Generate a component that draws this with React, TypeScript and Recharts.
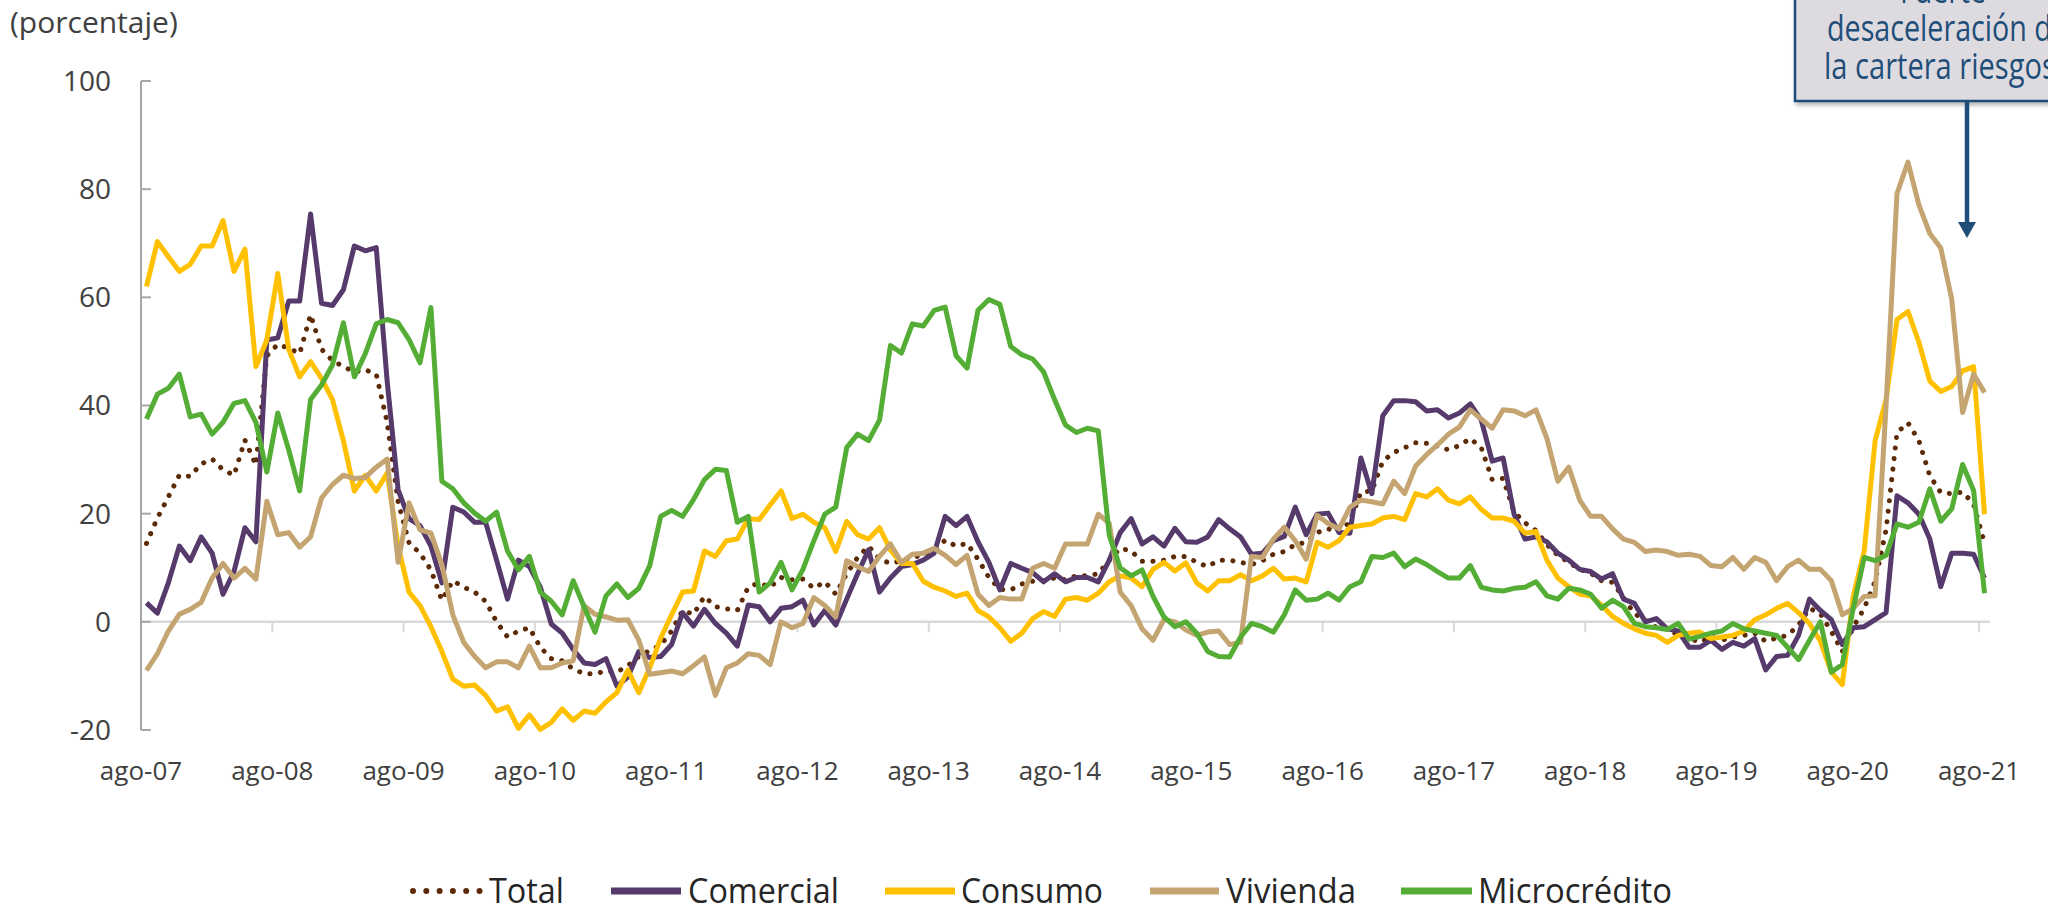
import { LineChart, Line, XAxis, YAxis, ReferenceLine } from "recharts";

// ago-07 ... ago-21, monthly growth (porcentaje)
const TICK_LABELS = [
  "ago-07", "ago-08", "ago-09", "ago-10", "ago-11", "ago-12", "ago-13", "ago-14",
  "ago-15", "ago-16", "ago-17", "ago-18", "ago-19", "ago-20", "ago-21",
];
const Y_TICKS = [-20, 0, 20, 40, 60, 80, 100];

const TOTAL = [
  14.5, 19.2, 23.1, 27.1, 26.9, 29.2, 30.1, 28.1, 27.1, 33.6, 29, 49.2,
  51.3, 50.6, 49.6, 56.8, 50.4, 48.3, 47.2, 46.2, 46.6, 45.8, 36.9, 22.2,
  14.6, 12.7, 9.6, 4.0, 7.6, 6.4, 5.5, 3.8, 0, -2.8, -1.7, -1.1,
  -4.7, -6.8, -7.2, -8.7, -9.6, -9.6, -9.1, -9.3, -8.1, -6.4, -5.3, -4.3,
  -1.7, 2.1, 1.4, 4.7, 2.8, 2.4, 2.1, 6.4, 7.2, 6.4, 8.2, 7.8,
  7.9, 6.2, 7.4, 5.1, 8.9, 11.9, 14, 11.6, 10.8, 11.3, 12, 12.2,
  13.1, 15.1, 14, 14.5, 11.6, 8.2, 6.0, 5.9, 7.0, 7.5, 7.6, 8.1,
  7.8, 8.5, 8.5, 8.9, 11.4, 13.6, 13.1, 11.2, 11.2, 11.4, 12.1, 12.1,
  11.0, 10.2, 11.4, 11.4, 11.0, 10.6, 11.3, 12.5, 13, 14.3, 14.7, 16.5,
  17.2, 16.6, 18.5, 24, 24.2, 29.7, 31.3, 32.2, 33.1, 33, 32.5, 31.8,
  32.6, 33.9, 32.2, 26.3, 26.5, 20.3, 18.3, 16.9, 14.3, 12.3, 11.0, 9.7,
  9.0, 7.6, 7.3, 4.5, 1.5, 0.3, -1.0, -1.3, -2.5, -3.0, -3.8, -2.8,
  -3.4, -2.8, -2.5, -2.1, -3.6, -3.0, -2.5, -0.6, 2.5, 1.5, -1.8, -5.5,
  -1.0, 2.5, 7.5, 17, 35, 36.8, 33.5, 27, 23.9, 23.7, 24, 21.8,
  14.5,
];

const COMERCIAL = [
  3.5, 1.6, 7.2, 14, 11.3, 15.7, 12.7, 5.1, 9.3, 17.4, 14.8, 52.1,
  52.5, 59.3, 59.3, 75.4, 58.9, 58.5, 61.4, 69.5, 68.6, 69.2, 44.5, 24.4,
  19.1, 17.8, 14, 7.2, 21.2, 20.3, 18.4, 18.4, 11.4, 4.2, 11.4, 10.2,
  6.4, -0.4, -2.1, -5.1, -7.6, -7.9, -6.8, -11.9, -10.2, -5.5, -6.6, -6.4,
  -4.2, 1.7, -0.8, 2.3, -0.3, -2.1, -4.5, 3.1, 2.8, 0, 2.5, 2.8,
  4.0, -0.6, 2.1, -0.6, 4.2, 8.9, 13.3, 5.5, 8.1, 10.2, 10.6, 11.4,
  12.7, 19.5, 17.8, 19.5, 14.8, 11, 5.9, 10.8, 9.9, 9.1, 7.4, 8.9,
  7.4, 8.2, 8.2, 7.4, 11.4, 16.5, 19.1, 14.4, 15.7, 14, 17.3, 14.8,
  14.7, 15.7, 18.9, 17.2, 15.7, 12.5, 12.7, 15, 15.8, 21.2, 16.1, 19.9,
  20.1, 16.5, 16.4, 30.3, 23.7, 38.1, 40.9, 40.9, 40.7, 39, 39.2, 37.7,
  38.6, 40.3, 37.3, 29.7, 30.3, 19.9, 15.3, 15.7, 14.8, 12.7, 11.4, 9.7,
  9.3, 7.9, 8.9, 4.2, 3.4, 0, 0.6, -1.3, -1.7, -4.7, -4.7, -3.4,
  -5.1, -3.8, -4.5, -3.1, -8.9, -6.4, -6.2, -2.5, 4.2, 2.1, 0.4, -4.2,
  -1.1, -0.9, 0.4, 1.7, 23.3, 22, 19.9, 15.3, 6.5, 12.7, 12.7, 12.5,
  8.1,
];

const CONSUMO = [
  62, 70.3, 67.5, 64.8, 66.1, 69.5, 69.5, 74.2, 64.8, 68.9, 47.2, 52.1,
  64.4, 50.4, 45.3, 48.1, 45, 41.1, 33.5, 24.2, 27.1, 24.2, 27.5, 14,
  5.5, 3, -0.9, -5.5, -10.6, -11.9, -11.7, -13.6, -16.5, -15.7, -19.7, -17.2,
  -19.9, -18.6, -16.1, -18.2, -16.5, -16.9, -14.8, -13.1, -8.9, -13.1, -8.5, -3,
  1.3, 5.5, 5.7, 13.1, 12.1, 15, 15.3, 19.1, 18.9, 21.6, 24.2, 19.1,
  19.9, 18.4, 17.4, 13, 18.6, 16.1, 15.3, 17.4, 13.3, 10.8, 10.8, 7.5,
  6.4, 5.7, 4.7, 5.3, 2.1, 0.9, -1.1, -3.6, -2.1, 0.6, 1.9, 1.0,
  4.2, 4.5, 4.0, 5.3, 7.4, 8.5, 8.1, 6.5, 9.7, 11.0, 9.4, 10.9,
  7.2, 5.7, 7.6, 7.6, 8.7, 7.6, 8.5, 9.9, 7.9, 8.1, 7.4, 14.7,
  13.8, 15.0, 17.5, 17.8, 18.1, 19.2, 19.5, 18.9, 23.7, 23.1, 24.6, 22.5,
  21.8, 23.1, 20.8, 19.2, 19.2, 18.6, 16.4, 16.7, 11.4, 8.1, 6.5, 5.1,
  4.8, 3.1, 1.0, -0.3, -1.3, -2.1, -2.5, -3.8, -2.5, -2.1, -1.9, -3.1,
  -2.8, -2.5, -1.7, 0.4, 1.3, 2.5, 3.4, 1.7, -0.3, -3.6, -9.3, -11.6,
  4.7, 13.1, 33.5, 41.1, 55.9, 57.4, 51.7, 44.5, 42.6, 43.5, 46.4, 47.2,
  19.9,
];

const VIVIENDA = [
  -9, -5.9, -1.7, 1.4, 2.3, 3.6, 8.1, 10.8, 8.1, 9.9, 7.9, 22.3,
  16.1, 16.5, 13.8, 15.7, 22.9, 25.4, 27.1, 26.5, 26.7, 28.6, 30.1, 11,
  22, 17, 16.4, 10.6, 1.3, -3.8, -6.4, -8.5, -7.4, -7.4, -8.5, -4.5,
  -8.5, -8.5, -7.6, -7.2, 3.0, 1.4, 0.9, 0.3, 0.4, -3.4, -9.7, -9.4,
  -9.1, -9.6, -8.1, -6.5, -13.6, -8.5, -7.6, -5.9, -6.2, -7.9, 0, -1.1,
  -0.3, 4.5, 3, 0.9, 11.3, 10.2, 9.3, 12.1, 14.4, 11, 12.5, 12.7,
  13.6, 12.3, 10.6, 12.3, 5.1, 3, 4.5, 4.2, 4.2, 9.9, 10.8, 9.9,
  14.4, 14.4, 14.4, 19.9, 18.2, 5.5, 3.0, -1.3, -3.4, 0.4, 0, -1.5,
  -2.5, -1.9, -1.7, -4.2, -3.8, 12.1, 11.9, 15.3, 17.5, 15, 11.6, 19.7,
  18.2, 17.2, 21.2, 22.5, 22.2, 21.8, 26, 23.7, 28.8, 30.9, 32.7, 34.7,
  36, 39.2, 37.5, 35.8, 39.2, 39, 38.1, 39.2, 33.9, 26, 28.6, 22.5,
  19.5, 19.5, 17.2, 15.3, 14.7, 13, 13.3, 13, 12.3, 12.5, 12.1, 10.4,
  10.2, 11.9, 9.7, 11.9, 11, 7.6, 10.2, 11.4, 9.7, 9.7, 7.6, 1.3,
  2.5, 4.7, 4.8, 40, 79.2, 85, 77.1, 71.8, 69.1, 59.7, 38.7, 45.8,
  42.4,
];

const MICROCREDITO = [
  37.5, 42.1, 43.2, 45.8, 37.9, 38.4, 34.7, 36.9, 40.4, 40.9, 36.9, 27.7,
  38.6, 31.8, 24.2, 41.1, 43.8, 47.5, 55.3, 45.3, 49.6, 55.1, 55.9, 55.3,
  52.2, 47.9, 58.1, 26, 24.6, 22, 20.1, 18.6, 20.3, 13.1, 9.6, 12.1,
  5.5, 3.8, 1.3, 7.6, 2.8, -1.9, 4.8, 7.0, 4.5, 6.2, 10.4, 19.5,
  20.6, 19.5, 22.6, 26.3, 28.2, 28, 18.4, 19.5, 5.5, 7.2, 11, 5.9,
  9.7, 15, 19.9, 21.2, 32.2, 34.7, 33.5, 37.3, 51.1, 49.7, 55.1, 54.7,
  57.6, 58.2, 49.2, 46.9, 57.6, 59.6, 58.7, 50.9, 49.4, 48.6, 46.2, 41.1,
  36.4, 35, 35.8, 35.3, 16, 10, 8.5, 9.6, 4.7, 0.9, -0.9, 0,
  -2.1, -5.5, -6.4, -6.5, -2.8, -0.3, -0.9, -1.9, 1.3, 5.9, 4.0, 4.2,
  5.3, 4.0, 6.5, 7.4, 12.1, 11.9, 12.7, 10.2, 11.6, 10.6, 9.3, 8.1,
  8.1, 10.4, 6.4, 5.9, 5.7, 6.2, 6.4, 7.4, 4.8, 4.2, 6.2, 5.9,
  5.1, 2.5, 4.0, 2.8, -0.3, -0.9, -1.1, -1.4, -0.3, -3.2, -2.7, -2.1,
  -1.7, -0.3, -1.3, -1.7, -2.1, -2.5, -4.7, -7, -3.4, 0, -9.3, -7.9,
  2.5, 11.9, 11.3, 12.3, 18.1, 17.5, 18.4, 24.6, 18.6, 20.9, 29.1, 24.3,
  5.3,
];

const data = TOTAL.map((v, i) => ({
  i,
  total: v,
  comercial: COMERCIAL[i],
  consumo: CONSUMO[i],
  vivienda: VIVIENDA[i],
  micro: MICROCREDITO[i],
}));

// year ticks sit on the boundary before each August
const X_TICKS = TICK_LABELS.map((_, k) => k * 12 - 0.5);

const COLORS = {
  total: "#5c2a06",
  comercial: "#553a6b",
  consumo: "#ffc000",
  vivienda: "#c4a572",
  micro: "#54ad34",
};

const FONT = "'Open Sans', sans-serif";
const NAVY = "#1f4e79";

export default function App() {
  return (
    <div
      style={{
        position: "fixed",
        left: 0,
        top: 0,
        width: 2048,
        height: 907,
        overflow: "hidden",
        background: "#fff",
        fontFamily: FONT,
      }}
    >
      <LineChart
        width={2048}
        height={907}
        data={data}
        margin={{ top: 81, right: 58, left: 0, bottom: 117 }}
      >
        <XAxis
          dataKey="i"
          type="number"
          domain={[-0.5, 168.5]}
          ticks={X_TICKS}
          interval={0}
          tickFormatter={(v) => TICK_LABELS[Math.round((v + 0.5) / 12)]}
          axisLine={false}
          tickLine={false}
          tickSize={0}
          tickMargin={32}
          height={60}
          tick={{ fontSize: 26, fill: "#404040", fontFamily: FONT }}
        />
        <YAxis
          type="number"
          domain={[-20, 100]}
          ticks={Y_TICKS}
          interval={0}
          axisLine={{ stroke: "#a6a6a6", strokeWidth: 2 }}
          tickLine={false}
          tickSize={0}
          tickMargin={30}
          width={141}
          tick={{ fontSize: 28, fill: "#404040", fontFamily: FONT }}
        />

        <ReferenceLine y={0} stroke="#d9d9d9" strokeWidth={2.5} />
        {X_TICKS.slice(1).map((t) => (
          <ReferenceLine
            key={"xt" + t}
            segment={[{ x: t, y: 0 }, { x: t, y: -1.9 }]}
            stroke="#d9d9d9"
            strokeWidth={2}
          />
        ))}
        {Y_TICKS.map((v) => (
          <ReferenceLine
            key={"yt" + v}
            segment={[{ x: -0.5, y: v }, { x: 0.4, y: v }]}
            stroke="#a6a6a6"
            strokeWidth={2}
          />
        ))}

        <Line
          type="linear"
          dataKey="total"
          stroke={COLORS.total}
          strokeWidth={5}
          strokeDasharray="0.1 10.5"
          strokeLinecap="round"
          dot={false}
          activeDot={false}
          isAnimationActive={false}
        />
        <Line
          type="linear"
          dataKey="comercial"
          stroke={COLORS.comercial}
          strokeWidth={5}
          strokeLinejoin="round"
          dot={false}
          activeDot={false}
          isAnimationActive={false}
        />
        <Line
          type="linear"
          dataKey="consumo"
          stroke={COLORS.consumo}
          strokeWidth={5}
          strokeLinejoin="round"
          dot={false}
          activeDot={false}
          isAnimationActive={false}
        />
        <Line
          type="linear"
          dataKey="vivienda"
          stroke={COLORS.vivienda}
          strokeWidth={5}
          strokeLinejoin="round"
          dot={false}
          activeDot={false}
          isAnimationActive={false}
        />
        <Line
          type="linear"
          dataKey="micro"
          stroke={COLORS.micro}
          strokeWidth={5}
          strokeLinejoin="round"
          dot={false}
          activeDot={false}
          isAnimationActive={false}
        />
      </LineChart>

      {/* title, callout and legend on top of the chart */}
      <svg
        width={2048}
        height={907}
        style={{ position: "absolute", left: 0, top: 0, pointerEvents: "none" }}
      >
        <defs>
          <filter id="shadow" x="-10%" y="-10%" width="130%" height="130%">
            <feDropShadow dx="2" dy="3" stdDeviation="2" floodColor="#808080" floodOpacity="0.6" />
          </filter>
        </defs>

        <text x={10} y={33} fontSize={30} fill="#404040" fontFamily={FONT}>
          (porcentaje)
        </text>

        <rect
          x={1795}
          y={-40}
          width={320}
          height={141}
          fill="#dedbe0"
          stroke={NAVY}
          strokeWidth={2.5}
          filter="url(#shadow)"
        />
        <g fill={NAVY} fontFamily={FONT} fontSize={36}>
          <text x={1900} y={3} textLength={86} lengthAdjust="spacingAndGlyphs">Fuerte</text>
          <text x={1827} y={41} textLength={241} lengthAdjust="spacingAndGlyphs">desaceleración de</text>
          <text x={1824} y={79} textLength={248} lengthAdjust="spacingAndGlyphs">la cartera riesgosa</text>
        </g>
        <line x1={1967} y1={102} x2={1967} y2={224} stroke={NAVY} strokeWidth={4.5} />
        <polygon points="1958,222 1976,222 1967,238" fill={NAVY} />

        <g fontFamily={FONT} fontSize={35} fill="#262626">
          {[0, 1, 2, 3, 4, 5].map((k) => (
            <circle key={k} cx={413 + k * 13.3} cy={891} r={3} fill={COLORS.total} />
          ))}
          <text x={489} y={903} textLength={75} lengthAdjust="spacingAndGlyphs">Total</text>
          <line x1={611} y1={891} x2={681} y2={891} stroke={COLORS.comercial} strokeWidth={7} />
          <text x={688} y={903} textLength={151} lengthAdjust="spacingAndGlyphs">Comercial</text>
          <line x1={885} y1={891} x2={955} y2={891} stroke={COLORS.consumo} strokeWidth={7} />
          <text x={961} y={903} textLength={142} lengthAdjust="spacingAndGlyphs">Consumo</text>
          <line x1={1150} y1={891} x2={1219} y2={891} stroke={COLORS.vivienda} strokeWidth={7} />
          <text x={1226} y={903} textLength={130} lengthAdjust="spacingAndGlyphs">Vivienda</text>
          <line x1={1401} y1={891} x2={1472} y2={891} stroke={COLORS.micro} strokeWidth={7} />
          <text x={1478} y={903} textLength={194} lengthAdjust="spacingAndGlyphs">Microcrédito</text>
        </g>
      </svg>
    </div>
  );
}
